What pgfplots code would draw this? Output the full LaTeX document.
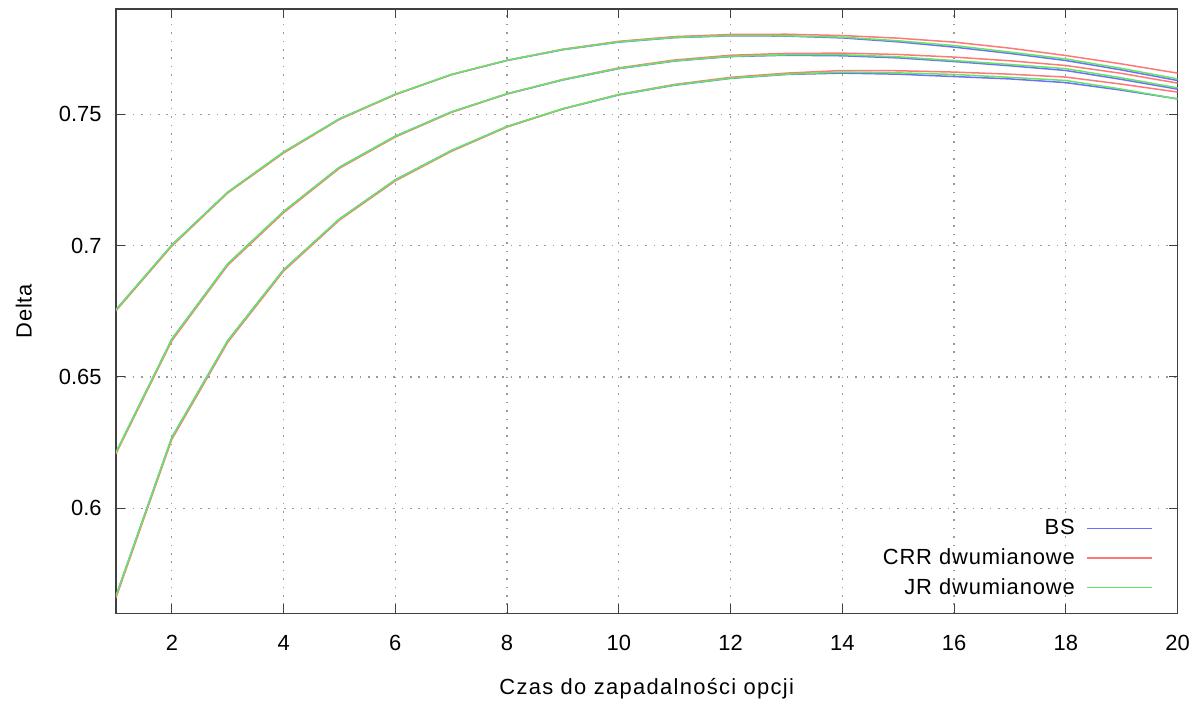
\documentclass[border=0pt]{standalone}
\usepackage{fontspec}
\setmainfont{Liberation Sans}
\usepackage{pgfplots}
\pgfplotsset{compat=1.18}
\usepackage{pgfplotstable}

\definecolor{bsblue}{RGB}{110,110,255}
\definecolor{crrred}{RGB}{255,120,120}
\definecolor{jrgreen}{RGB}{100,230,100}

\pgfplotstableread{
x  Ab     Ac     Aj     Bb     Bc     Bj     Cb     Cc     Cj
1  0.6756 0.6752 0.6756 0.6213 0.6208 0.6213 0.5667 0.5660 0.5667
2  0.7002 0.6998 0.7002 0.6644 0.6638 0.6644 0.6270 0.6263 0.6270
3  0.7203 0.7200 0.7203 0.6930 0.6925 0.6930 0.6638 0.6632 0.6638
4  0.7355 0.7352 0.7356 0.7129 0.7125 0.7130 0.6908 0.6903 0.6908
5  0.7482 0.7480 0.7482 0.7298 0.7294 0.7298 0.7101 0.7097 0.7101
6  0.7575 0.7574 0.7576 0.7416 0.7413 0.7416 0.7250 0.7246 0.7250
7  0.7650 0.7650 0.7651 0.7508 0.7506 0.7508 0.7361 0.7358 0.7361
8  0.7704 0.7705 0.7705 0.7577 0.7577 0.7578 0.7453 0.7451 0.7453
9  0.7745 0.7747 0.7746 0.7630 0.7632 0.7631 0.7520 0.7520 0.7521
10 0.7774 0.7777 0.7775 0.7673 0.7676 0.7674 0.7573 0.7575 0.7574
11 0.7791 0.7795 0.7792 0.7702 0.7706 0.7703 0.7610 0.7613 0.7611
12 0.7798 0.7803 0.7799 0.7719 0.7724 0.7720 0.7636 0.7640 0.7637
13 0.7797 0.7804 0.7798 0.7724 0.7731 0.7726 0.7651 0.7656 0.7652
14 0.7790 0.7799 0.7793 0.7722 0.7732 0.7726 0.7656 0.7666 0.7660
15 0.7775 0.7789 0.7779 0.7714 0.7727 0.7718 0.7652 0.7665 0.7657
16 0.7755 0.7774 0.7761 0.7700 0.7717 0.7704 0.7643 0.7660 0.7651
17 0.7731 0.7751 0.7736 0.7684 0.7703 0.7689 0.7634 0.7652 0.7640
18 0.7704 0.7723 0.7710 0.7666 0.7685 0.7673 0.7620 0.7641 0.7628
19 0.7668 0.7691 0.7674 0.7632 0.7655 0.7638 0.7591 0.7614 0.7595
20 0.7628 0.7656 0.7634 0.7595 0.7618 0.7600 0.7558 0.7584 0.7558
}\data

\begin{document}
\begin{tikzpicture}[font=\fontsize{11}{13}\selectfont]
\begin{axis}[
  scale only axis, width=530.75bp, height=302.25bp,
  xmin=1, xmax=20, ymin=0.56, ymax=0.79,
  xtick={2,4,...,20}, ytick={0.6,0.65,0.7,0.75},
  /pgf/number format/assume math mode=true,
  tick align=inside, xtick pos=both, ytick pos=both,
  major tick length=4.5bp,
  every tick/.style={black!75, line width=0.5bp},
  axis line style={black!75, line width=0.6bp},
  grid=major,
  major grid style={gray!80, line width=0.6bp, dash pattern=on 0.8bp off 3.4bp},
  xticklabel style={anchor=center, yshift=-14.75bp},
  yticklabel style={anchor=east, inner sep=0pt, xshift=-7bp},
  xlabel={\addfontfeature{LetterSpace=6}Czas do zapadalności opcji},
  ylabel={\addfontfeature{LetterSpace=4}Delta},
  xlabel style={at={(rel axis cs:0.5,0)}, anchor=base, yshift=-40.25bp},
  ylabel style={at={([xshift=-42.15bp]rel axis cs:0,0.5)}, anchor=base},
  legend style={at={(rel axis cs:1,0)}, anchor=south east, xshift=-9.4bp, yshift=4bp,
    draw=none, fill=none, row sep=1.5bp,
    font=\fontsize{11}{13}\selectfont\addfontfeature{LetterSpace=4}},
  legend cell align=right,
  legend plot pos=right,
  legend image code/.code={\path (0bp,0bp); \draw[#1] (3.5bp,0bp) -- (36bp,0bp);},
  every axis plot/.append style={line width=0.75bp},
]
\coordinate (sw) at (rel axis cs:0,0);
\coordinate (ne) at (rel axis cs:1,1);
\addplot[bsblue] table[x=x,y=Ab]{\data}; \addlegendentry{BS}
\addplot[bsblue, forget plot] table[x=x,y=Bb]{\data};
\addplot[bsblue, forget plot] table[x=x,y=Cb]{\data};
\addplot[crrred] table[x=x,y=Ac]{\data}; \addlegendentry{CRR dwumianowe}
\addplot[crrred, forget plot] table[x=x,y=Bc]{\data};
\addplot[crrred, forget plot] table[x=x,y=Cc]{\data};
\addplot[jrgreen] table[x=x,y=Aj]{\data}; \addlegendentry{JR dwumianowe}
\addplot[jrgreen, forget plot] table[x=x,y=Bj]{\data};
\addplot[jrgreen, forget plot] table[x=x,y=Cj]{\data};
\end{axis}
\pgfresetboundingbox
\path ([shift={(-58bp,-45.25bp)}]sw) rectangle ([shift={(12.25bp,4.5bp)}]ne);
\end{tikzpicture}
\end{document}
